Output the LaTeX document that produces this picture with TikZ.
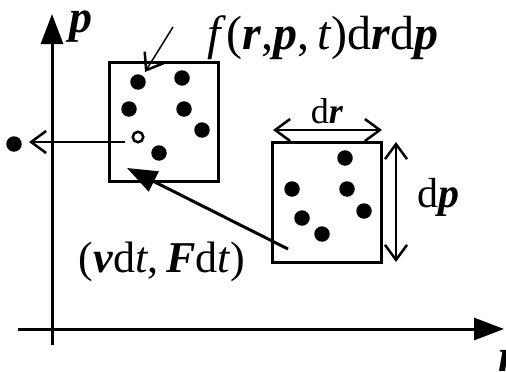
\documentclass[tikz,border=0pt]{standalone}
\usepackage{fontspec}
\setmainfont{Liberation Serif}
\usetikzlibrary{arrows.meta}
\begin{document}
\begin{tikzpicture}[x=1pt,y=-1pt,
  thickline/.style={line width=3pt},
  thinline/.style={line width=1.5pt},
  dot/.style={circle,fill=black,inner sep=0pt,minimum size=15.5pt},
  hollow/.style={circle,draw=black,line width=2.5pt,inner sep=0pt,minimum size=10.5pt},
  cell/.style={draw,line width=3pt,inner sep=0pt,minimum width=109pt,minimum height=119pt},
  bigtip/.style={-{Triangle[length=30pt,width=22pt]}},
  barb/.style={-{Straight Barb[length=15pt,width=22pt,line width=2.5pt]}},
  dbarb/.style={{Straight Barb[length=15pt,width=22pt,line width=2.5pt]}-{Straight Barb[length=15pt,width=22pt,line width=2.5pt]}},
  toplab/.style={inner sep=0pt,font=\fontsize{48}{54}\selectfont},
  botlab/.style={inner sep=0pt,font=\fontsize{44}{50}\selectfont}
]
\useasboundingbox (0,0) rectangle (506,372);
\clip (0,0) rectangle (506,372);
% axes
\coordinate (yb) at (52,345);
\coordinate (yt) at (52,14);
\coordinate (xb) at (18,329);
\coordinate (xt) at (504,329);
\draw[thickline,bigtip] (yb) -- (yt);
\draw[thickline,bigtip] (xb) -- (xt);
\node[inner sep=0pt,font=\fontsize{46}{52}\selectfont] (plab) at (81,27) {\textbf{\textit{p}}};
\node[inner sep=0pt,anchor=base west,font=\fontsize{46}{52}\selectfont] (rlab) at (498,371) {\textbf{\textit{r}}};
% boxes
\node[cell] (box1) at (163.5,121.5) {};
\node[cell,minimum height=120pt] (box2) at (326.5,202) {};
% dots in box1
\node[dot] (a1) at (138,82) {};
\node[dot] (a2) at (182,78) {};
\node[dot] (a3) at (129,109) {};
\node[dot] (a4) at (184,109) {};
\node[dot] (a5) at (202,130) {};
\node[hollow] (a6) at (138,137) {};
\node[dot] (a7) at (159,153) {};
% dots in box2
\node[dot] (b1) at (345,158) {};
\node[dot] (b2) at (292,189) {};
\node[dot] (b3) at (347,189) {};
\node[dot] (b4) at (364,211) {};
\node[dot] (b5) at (302,218) {};
\node[dot] (b6) at (322,234) {};
% outside dot and arrow
\node[dot] (out) at (14,144) {};
\coordinate (hs) at (125,142);
\coordinate (ht) at (29,142);
\draw[thinline,barb] (hs) -- (ht);
% top label and pointer
\node[toplab] (flab) at (323,38) {\textit{f}(\textbf{\textit{r}},\textbf{\textit{p}},\,\textit{t})d\textbf{\textit{r}}d\textbf{\textit{p}}};
\coordinate (ps) at (173,27);
\coordinate (pe) at (145,72);
\draw[thinline,barb] (ps) -- (pe);
% big arrow
\coordinate (bs) at (288,249);
\coordinate (be) at (127,168);
\draw[thickline,bigtip] (bs) -- (be);
\node[botlab] (vlab) at (162,262) {(\textbf{\textit{v}}d\textit{t},\,\textbf{\textit{F}}d\textit{t})};
% dimension arrows
\coordinate (drl) at (273,130);
\coordinate (drr) at (382,130);
\draw[thinline,dbarb] (drl) -- (drr);
\node[inner sep=0pt,font=\fontsize{36}{42}\selectfont] (drlab) at (327,111) {d\textbf{\textit{r}}};
\coordinate (dpt) at (396,142);
\coordinate (dpb) at (396,262);
\draw[thinline,dbarb] (dpt) -- (dpb);
\node[inner sep=0pt,font=\fontsize{42}{48}\selectfont] (dplab) at (438,197) {d\textbf{\textit{p}}};
\end{tikzpicture}
\end{document}
